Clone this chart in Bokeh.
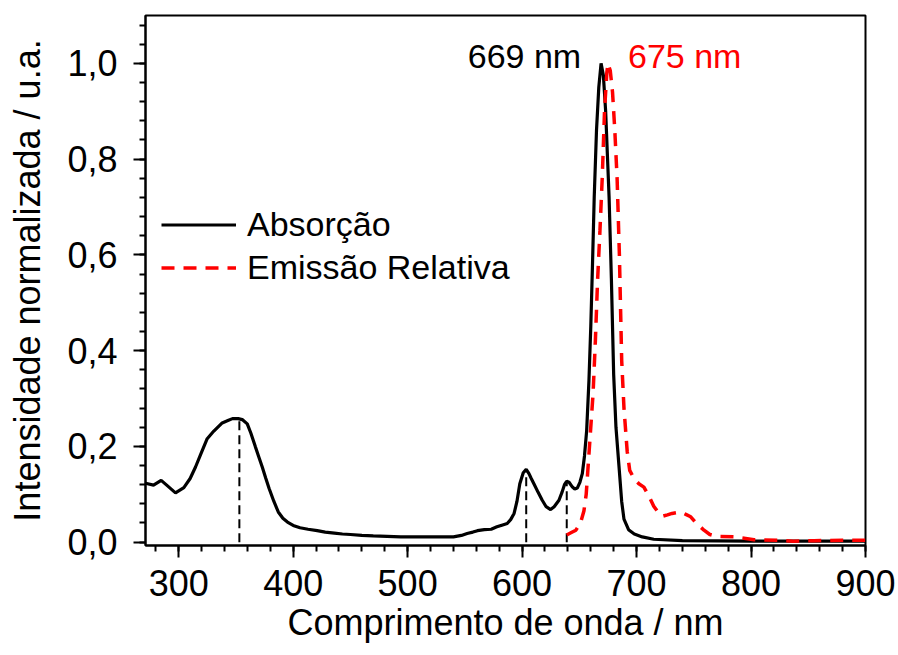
from bokeh.plotting import figure
from bokeh.models import (Range1d, FixedTicker, CustomJSTickFormatter, Legend, LegendItem)
from bokeh.core.properties import value
from bokeh.embed import file_html
from bokeh.resources import INLINE

# ---------------- data ----------------
abs_nm = [271, 278, 284.7, 290, 297.2, 304.5, 310, 314.7, 320, 324.9, 330.7, 338, 343, 347, 352,
          355.5, 359.9, 363, 367, 370, 373, 376, 379, 383, 387, 391, 395, 400, 406, 413, 421,
          428, 436, 443, 450, 460, 470, 482, 494, 510, 525, 540, 547, 552, 557, 561, 567, 573,
          578, 583, 587, 590, 593, 595.5, 598, 601, 603.6, 606, 608, 610.3, 614, 617.6, 621,
          624.9, 628, 632.2, 635, 637, 638.9, 641, 644, 646, 648.2, 650.5, 652.6, 654.5, 656.4,
          658.4, 660, 661.5, 663, 665, 667, 669, 671, 673, 675, 676, 678, 680, 682, 684.6, 687,
          689, 693, 698, 705, 715, 740, 800, 900]
abs_val = [0.123, 0.119, 0.129, 0.118, 0.103, 0.114, 0.133, 0.157, 0.188, 0.216, 0.232, 0.249,
           0.254, 0.258, 0.258, 0.256, 0.247, 0.228, 0.199, 0.178, 0.157, 0.134, 0.112, 0.086,
           0.063, 0.050, 0.042, 0.035, 0.030, 0.027, 0.024, 0.021, 0.019, 0.017, 0.016, 0.014,
           0.013, 0.012, 0.011, 0.011, 0.011, 0.011, 0.014, 0.018, 0.021, 0.024, 0.026, 0.027,
           0.032, 0.036, 0.039, 0.047, 0.060, 0.085, 0.122, 0.145, 0.152, 0.143, 0.133, 0.122,
           0.104, 0.0875, 0.074, 0.068, 0.074, 0.0875, 0.105, 0.120, 0.127, 0.125, 0.115, 0.111,
           0.113, 0.125, 0.143, 0.180, 0.233, 0.3375, 0.45, 0.58, 0.72, 0.86, 0.95, 1.0, 0.975,
           0.90, 0.78, 0.72, 0.55, 0.35, 0.24, 0.16, 0.085, 0.048, 0.026, 0.017, 0.011, 0.006,
           0.003, 0.002, 0.002]

em_nm = [639, 643, 647, 651, 654, 656, 658, 660, 662, 664, 666, 668, 670, 672, 674, 675, 677,
         679, 681, 683, 685, 687, 689, 691.8, 694, 697.7, 702, 706.4, 711, 715, 719, 722.5, 727,
         731, 738.5, 743, 747.3, 752, 758.9, 764, 770, 785, 802.6, 826, 837, 855, 880, 900]
em_val = [0.015, 0.020, 0.025, 0.040, 0.065, 0.10, 0.17, 0.24, 0.31, 0.42, 0.55, 0.65, 0.76,
          0.90, 0.98, 1.0, 0.985, 0.94, 0.86, 0.76, 0.60, 0.38, 0.28, 0.19, 0.15, 0.133, 0.122,
          0.115, 0.095, 0.075, 0.062, 0.054, 0.057, 0.060, 0.063, 0.058, 0.053, 0.040, 0.025,
          0.016, 0.012, 0.011, 0.005, 0.004, 0.002, 0.003, 0.004, 0.004]

drop_x = [353, 603.6, 639]
drop_y = [0.257, 0.152, 0.127]

x_ticks = [300, 400, 500, 600, 700, 800, 900]
x_minor = list(range(280, 901, 20))
y_ticks = [0.0, 0.2, 0.4, 0.6, 0.8, 1.0]
y_minor = [round(i * 0.04, 2) for i in range(0, 28)]

peak_labels = ["669 nm", "675 nm"]
series_names = ["Absorção", "Emissão Relativa"]
x_title = "Comprimento de onda / nm"
y_title = "Intensidade normalizada / u.a."

FONT = "Liberation Sans"

p = figure(width=898, height=655, output_backend="svg", toolbar_location=None,
           x_range=Range1d(271, 900), y_range=Range1d(-0.007, 1.1),
           min_border_left=145, min_border_right=33, min_border_top=15, min_border_bottom=110)
p.background_fill_color = "white"
p.border_fill_color = "white"
p.outline_line_color = "black"
p.outline_line_width = 2
p.xgrid.visible = False
p.ygrid.visible = False

for ax in (p.xaxis[0], p.yaxis[0]):
    ax.axis_line_width = 2
    ax.major_tick_line_width = 2
    ax.minor_tick_line_width = 2
    ax.major_tick_out = 12
    ax.major_tick_in = 0
    ax.minor_tick_out = 6
    ax.minor_tick_in = 0
    ax.major_label_text_font = FONT
    ax.major_label_text_font_size = "36px"
    ax.major_label_text_color = "black"
    ax.axis_label_text_font = FONT
    ax.axis_label_text_font_size = "36px"
    ax.axis_label_text_font_style = "normal"
    ax.axis_label_text_color = "black"

p.xaxis.ticker = FixedTicker(ticks=x_ticks, minor_ticks=x_minor)
p.yaxis.ticker = FixedTicker(ticks=y_ticks, minor_ticks=y_minor)
p.yaxis.formatter = CustomJSTickFormatter(code="return tick.toFixed(1).replace('.', ',');")
p.xaxis.axis_label = x_title
p.yaxis.axis_label = y_title
p.xaxis.major_label_standoff = 12
p.xaxis.axis_label_standoff = 3
p.yaxis.major_label_standoff = 16
p.yaxis.axis_label_standoff = 16

# drop lines
p.segment(x0=drop_x, y0=[0] * len(drop_x), x1=drop_x, y1=drop_y,
          line_color="black", line_width=2, line_dash="9 5")

r_abs = p.line(abs_nm, abs_val, line_color="black", line_width=3.2)
r_em = p.line(em_nm, em_val, line_color="#ff0000", line_width=3.5, line_dash="13 9")

# peak annotations
p.text(x=[552.5], y=[1.015], text=[peak_labels[0]], text_color="black",
       text_font=value(FONT), text_font_size="34px", text_baseline="alphabetic")
p.text(x=[692.5], y=[1.015], text=[peak_labels[1]], text_color="#ff0000",
       text_font=value(FONT), text_font_size="34px", text_baseline="alphabetic")

legend = Legend(items=[LegendItem(label=series_names[0], renderers=[r_abs]),
                       LegendItem(label=series_names[1], renderers=[r_em])],
                location=(16, 256), orientation="vertical")
legend.background_fill_alpha = 0
legend.border_line_color = None
legend.padding = 0
legend.margin = 0
legend.spacing = 0
legend.glyph_width = 75
legend.glyph_height = 43
legend.label_height = 43
legend.label_standoff = 11
legend.label_text_font = FONT
legend.label_text_font_size = "34px"
legend.label_text_color = "black"
p.add_layout(legend, "center")

open("out.html", "w").write(file_html(p, INLINE))
